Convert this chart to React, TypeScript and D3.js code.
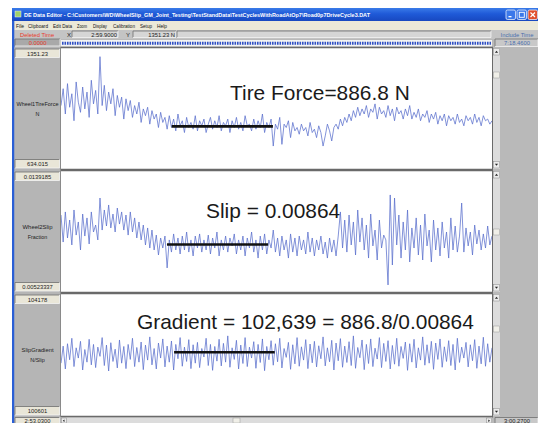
import * as d3 from "d3";
import { useEffect, useRef } from "react";

const W = 538;
const H = 423;

// time window shown (seconds): 2:53.0300 .. 3:00.2700
const TIME_START = 173.03;
const TIME_END = 180.27;

const titleText =
  "DE Data Editor - C:\\Customers\\WD\\WheelSlip_GM_Joint_Testing\\TestStandData\\TestCyclesWithRoadAtOp7\\Road0p7DriveCycle3.DAT";
const menuItems = ["File", "Clipboard", "Edit Data", "Zoom", "Display", "Calibration", "Setup", "Help"];
const menuX = [16, 28, 53, 77, 93, 113, 140, 157];
const menuW = [8, 20, 19, 10, 14, 22, 12, 10];

const channelNames = [["Wheel1TireForce", "N"], ["Wheel2Slip", "Fraction"], ["SlipGradient", "N/Slip"]];
const channelMax = ["1351.23", "0.0139185", "104178"];
const channelMin = ["634.015", "0.00523337", "100601"];
const annotations = ["Tire Force=886.8 N", "Slip = 0.00864", "Gradient = 102,639 = 886.8/0.00864"];

// averaging window marked with the black bars (seconds)
const barStart = [174.89, 174.81, 174.93];
const barEnd = [176.59, 176.51, 176.62];
const barLevel = [886.8, 0.00864, 102470];

const tireForce = [
  1010, 1110, 960, 1140, 1000, 1080, 920, 1150, 1030, 970,
  1120, 990, 1090, 940, 1160, 1020, 1100, 960, 1300, 1010,
  1130, 980, 1090, 1020, 1110, 950, 1070, 1000, 1060, 930,
  1050, 980, 1040, 940, 1010, 960, 1030, 910, 990, 950,
  1000, 900, 980, 930, 960, 880, 970, 910, 940, 870,
  950, 880, 930, 860, 960, 890, 920, 850, 940, 880,
  910, 870, 950, 860, 920, 890, 930, 850, 900, 940,
  870, 920, 880, 950, 860, 910, 890, 930, 850, 920,
  880, 940, 870, 910, 860, 950, 890, 900, 860, 930,
  870, 920, 880, 960, 850, 910, 880, 930, 770, 900,
  870, 940, 780, 900, 880, 920, 820, 910, 860, 880,
  840, 900, 860, 880, 830, 910, 850, 870, 820, 890,
  850, 770, 830, 900, 860, 800, 880, 900, 870, 930,
  890, 940, 910, 960, 920, 980, 940, 1000, 950, 990,
  960, 1010, 940, 990, 970, 1020, 930, 1000, 960, 980,
  940, 1010, 950, 990, 920, 1000, 960, 980, 930, 990,
  950, 1010, 930, 970, 940, 990, 920, 960, 940, 980,
  910, 960, 930, 970, 900, 950, 920, 960, 890, 950,
  920, 940, 900, 960, 910, 930, 890, 950, 920, 940,
  900, 960, 910, 940, 890, 950, 920, 930, 900, 920,
];

const wheelSlip = [
  0.01076, 0.00882, 0.01098, 0.00911, 0.0104, 0.00861, 0.01112, 0.00932, 0.01026, 0.00825,
  0.01083, 0.00925, 0.01055, 0.00868, 0.01098, 0.00954, 0.01004, 0.00897, 0.01198,
  0.00968, 0.01112, 0.00997, 0.01148, 0.00983, 0.01083, 0.00954, 0.01126, 0.01011, 0.01098,
  0.00968, 0.01076, 0.00932,
  0.01098, 0.00954, 0.01055, 0.00911, 0.01026, 0.00897, 0.01004, 0.00861, 0.00983, 0.00839,
  0.00968, 0.00825, 0.00932, 0.00789, 0.00911,
  0.00839, 0.00925, 0.00696, 0.00897, 0.0081, 0.0094, 0.00825, 0.00911, 0.00796, 0.00925,
  0.00825, 0.00954, 0.0081, 0.00897, 0.00782, 0.00925, 0.00839, 0.0094, 0.0081, 0.00897,
  0.00825, 0.00932, 0.00796, 0.00911, 0.00839, 0.00954, 0.00782, 0.00897, 0.00825, 0.00925,
  0.0081, 0.00911, 0.00854, 0.0094, 0.00796, 0.00897, 0.00825, 0.00925, 0.00782, 0.00911,
  0.00839, 0.00954, 0.0081, 0.00897, 0.00767, 0.00925, 0.00825, 0.0094, 0.00796, 0.00897,
  0.00839, 0.00968, 0.0081, 0.00911, 0.00782, 0.00925, 0.00825, 0.00897, 0.00767, 0.0094,
  0.0081, 0.00911, 0.00782, 0.00925, 0.00825, 0.00897, 0.00796, 0.00954, 0.0081, 0.00911,
  0.00782, 0.00897, 0.00825, 0.00925, 0.00796, 0.00882, 0.00767, 0.00911, 0.0081, 0.00897,
  0.00782, 0.00925,
  0.01098, 0.00839, 0.0104, 0.0081, 0.01076, 0.00861, 0.01026, 0.00789, 0.01112, 0.00882,
  0.01055, 0.00825, 0.01004, 0.00767, 0.01083, 0.00854, 0.00968, 0.00753, 0.0104, 0.00839,
  0.00932, 0.00897, 0.00574, 0.0122, 0.00717, 0.01198,
  0.00861, 0.01076, 0.00767, 0.01026, 0.00825, 0.01112, 0.00739, 0.00983, 0.00839, 0.01055,
  0.00789, 0.01004, 0.00753, 0.01083, 0.00854, 0.00968, 0.00739, 0.0104, 0.00825, 0.00983,
  0.00782, 0.01026, 0.00839, 0.00954, 0.00767, 0.01055, 0.00825, 0.00997, 0.0081, 0.00925,
  0.01162, 0.0081, 0.00983, 0.00854, 0.00954, 0.00789, 0.01004, 0.00868, 0.00968, 0.00825,
  0.0094, 0.00839, 0.00997, 0.00861, 0.00925,
];

const slipGradient = [
  102150, 102650, 101980, 102720, 102250, 102880, 102050, 102600, 102300, 102790,
  101950, 102550, 102180, 102850, 102100, 102700, 102020, 102620, 102350, 102900,
  102080, 102680, 101920, 102750, 102200, 102560, 102010, 102830, 102150, 102640,
  101990, 102700, 102260, 102880, 102050, 102610, 102180, 102770, 101960, 102680,
  102240, 102920, 102100, 102580, 101980, 102740, 102300, 102860, 102040, 102650,
  102180, 102800, 101950, 102700, 102280, 102900, 102060, 102620, 102200, 102840,
  101990, 102690, 102150, 102760, 102020, 102580, 102330, 102880, 102080, 102700,
  101940, 102640, 102210, 102850, 102070, 102730, 102180, 102950, 102030, 102600,
  102260, 102820, 101980, 102680, 102140, 102900, 102050, 102620, 102300, 102780,
  102000, 102700, 102170, 102860, 101930, 102640, 102250, 102810, 102090, 102720,
  102190, 102880, 102010, 102580, 102320, 102760, 101970, 102690, 102130, 102900,
  102060, 102630, 102240, 102840, 101990, 102710, 102160, 102790, 102040, 102660,
  102280, 102920, 102070, 102600, 102190, 102820, 101950, 102740, 102220, 102870,
  102030, 102650, 102170, 102780, 102080, 102950, 102000, 102610, 102310, 102830,
  101960, 102700, 102140, 102860, 102050, 102590, 102270, 102900, 102020, 102730,
  102200, 102810, 101980, 102670, 102120, 102880, 102060, 102640, 102290, 102770,
  101940, 102720, 102180, 102850, 102010, 102600, 102240, 102920, 102090, 102690,
  102150, 102790, 101970, 102740, 102260, 102860, 102030, 102630, 102200, 102810,
  102080, 102700, 101950, 102880, 102170, 102620, 102300, 102760, 102040, 102690,
  102220, 102840, 102000, 102650, 102130, 102910, 102060, 102720, 102180, 102600,
];

const series = [tireForce, wheelSlip, slipGradient];

export default function App() {
  const svgRef = useRef<SVGSVGElement>(null);

  useEffect(() => {
    if (!svgRef.current) return;
    const svg = d3.select(svgRef.current);
    svg.selectAll("*").remove();

    const UI = "'Liberation Sans', Arial, sans-serif";
    const plotX0 = 61;
    const plotX1 = 492;
    const panels = [
      { top: 48, bottom: 169, thumb: 72 },
      { top: 171, bottom: 292, thumb: 229 },
      { top: 294, bottom: 416, thumb: 326 },
    ];

    const defs = svg.append("defs");
    const tg = defs.append("linearGradient").attr("id", "title-grad").attr("x1", "0").attr("x2", "0").attr("y1", "0").attr("y2", "1");
    tg.append("stop").attr("offset", "0%").attr("stop-color", "#3a7be8");
    tg.append("stop").attr("offset", "45%").attr("stop-color", "#1f5ad8");
    tg.append("stop").attr("offset", "100%").attr("stop-color", "#1848c0");

    // window body
    svg.append("rect").attr("x", 12).attr("y", 8).attr("width", W - 12).attr("height", H - 8).attr("fill", "#b9b9b9");
    svg.append("rect").attr("x", 12).attr("y", 8).attr("width", 2.5).attr("height", H - 8).attr("fill", "#2a5fd6");

    // title bar
    svg.append("rect").attr("x", 12).attr("y", 8).attr("width", W - 12).attr("height", 13).attr("fill", "url(#title-grad)");
    svg.append("rect").attr("x", 15).attr("y", 11).attr("width", 6).attr("height", 6).attr("fill", "#9fd06a").attr("stroke", "#e8f0ff").attr("stroke-width", 0.5);
    svg.append("text").attr("x", 24).attr("y", 17.3).attr("fill", "#fff").attr("font-family", UI).attr("font-weight", "bold")
      .attr("font-size", 6).attr("textLength", 346).attr("lengthAdjust", "spacingAndGlyphs").text(titleText);
    const btns = [
      { x: 506, fill: "#3b78ea" },
      { x: 517, fill: "#3b78ea" },
      { x: 528, fill: "#e0502e" },
    ];
    btns.forEach((b, i) => {
      svg.append("rect").attr("x", b.x).attr("y", 10).attr("width", 9.5).attr("height", 9.5).attr("rx", 1.5)
        .attr("fill", b.fill).attr("stroke", "#fff").attr("stroke-width", 0.7);
      if (i === 0) svg.append("rect").attr("x", b.x + 2.5).attr("y", 16).attr("width", 3).attr("height", 1.3).attr("fill", "#fff");
      if (i === 1) svg.append("rect").attr("x", b.x + 2.3).attr("y", 12.3).attr("width", 5).attr("height", 5).attr("fill", "none").attr("stroke", "#fff").attr("stroke-width", 0.9);
      if (i === 2) {
        svg.append("path").attr("d", `M${b.x + 2.5},12.5 L${b.x + 7},17 M${b.x + 7},12.5 L${b.x + 2.5},17`).attr("stroke", "#fff").attr("stroke-width", 1.2);
      }
    });

    // menu bar
    svg.append("rect").attr("x", 14.5).attr("y", 21).attr("width", W - 14.5).attr("height", 9).attr("fill", "#ece9d8");
    menuItems.forEach((m, i) => {
      svg.append("text").attr("x", menuX[i]).attr("y", 28).attr("font-family", UI).attr("font-size", 5.4).attr("fill", "#111")
        .attr("textLength", menuW[i]).attr("lengthAdjust", "spacingAndGlyphs").text(m);
    });

    // toolbar row
    svg.append("rect").attr("x", 14.5).attr("y", 30).attr("width", W - 14.5).attr("height", 9).attr("fill", "#c4c4c4");
    svg.append("text").attr("x", 20).attr("y", 36.5).attr("font-family", UI).attr("font-size", 5.8).attr("fill", "#e83a2a").text("Deleted Time");

    const sunken = (x: number, y: number, w: number, h: number, fill: string) => {
      svg.append("rect").attr("x", x).attr("y", y).attr("width", w).attr("height", h).attr("fill", fill);
      svg.append("path").attr("d", `M${x},${y + h} L${x},${y} L${x + w},${y}`).attr("fill", "none").attr("stroke", "#6e6e6e").attr("stroke-width", 0.8);
      svg.append("path").attr("d", `M${x + w},${y} L${x + w},${y + h} L${x},${y + h}`).attr("fill", "none").attr("stroke", "#f4f4f4").attr("stroke-width", 0.8);
    };
    const label = (x: number, y: number, s: string, color = "#222", anchor = "middle", size = 5.8, len = 0) => {
      const t = svg.append("text").attr("x", x).attr("y", y).attr("font-family", UI).attr("font-size", size).attr("fill", color)
        .attr("text-anchor", anchor).text(s);
      if (len) t.attr("textLength", len).attr("lengthAdjust", "spacingAndGlyphs");
    };

    label(67, 36.5, "X", "#222", "start", 6);
    sunken(72, 31, 46, 6.5, "#d6d6d6");
    label(117, 36.5, "2:59.9000", "#222", "end");
    label(126, 36.5, "Y", "#222", "start", 6);
    sunken(133, 31, 43, 6.5, "#d6d6d6");
    label(175, 36.5, "1351.23 N", "#222", "end");
    sunken(177, 31, 314, 6.5, "#d6d6d6");
    label(517, 37, "Include Time", "#4a6fae");

    // time strip row
    sunken(15, 39, 45, 7, "#a9a9a9");
    label(37.5, 44.8, "0.0000", "#e83a2a");
    svg.append("rect").attr("x", plotX0).attr("y", 40).attr("width", plotX1 - plotX0).attr("height", 6.5).attr("fill", "#f4f4f4");
    svg.append("line").attr("x1", plotX0 + 1).attr("x2", plotX1 - 1).attr("y1", 43.3).attr("y2", 43.3)
      .attr("stroke", "#3050c4").attr("stroke-width", 3).attr("stroke-dasharray", "1.6,0.9");
    sunken(495, 39, 43, 7.5, "#c8c8c8");
    label(517, 44.8, "7:18.4600", "#4a6fae");

    // left gray column
    svg.append("rect").attr("x", 14.5).attr("y", 47).attr("width", 46).attr("height", 376).attr("fill", "#b5b5b5");
    svg.append("line").attr("x1", 60.5).attr("x2", 60.5).attr("y1", 47).attr("y2", 417).attr("stroke", "#8a8a8a").attr("stroke-width", 1);

    const timeScale = d3.scaleLinear().domain([TIME_START, TIME_END]).range([plotX0, plotX1]);
    const span = TIME_END - TIME_START;

    panels.forEach((p, k) => {
      const values = series[k];
      const lo = +channelMin[k];
      const hi = +channelMax[k];
      const y = d3.scaleLinear().domain([lo, hi]).range([p.bottom, p.top]);
      const n = values.length;
      const line = d3
        .line<number>()
        .x((_, i) => timeScale(TIME_START + (i / (n - 1)) * span))
        .y((d) => y(d));

      // plot background
      svg.append("rect").attr("x", plotX0).attr("y", p.top).attr("width", plotX1 - plotX0).attr("height", p.bottom - p.top).attr("fill", "#fff");
      svg.append("line").attr("x1", plotX0).attr("x2", plotX1 + 1).attr("y1", p.top - 0.5).attr("y2", p.top - 0.5).attr("stroke", "#6a6a6a").attr("stroke-width", 1.6);
      svg.append("line").attr("x1", plotX0).attr("x2", plotX1 + 1).attr("y1", p.bottom + 0.6).attr("y2", p.bottom + 0.6).attr("stroke", "#6a6a6a").attr("stroke-width", 1.6);
      svg.append("line").attr("x1", plotX1 + 0.5).attr("x2", plotX1 + 0.5).attr("y1", p.top).attr("y2", p.bottom).attr("stroke", "#6a6a6a").attr("stroke-width", 1);

      const clipId = `clip-${k}`;
      defs.append("clipPath").attr("id", clipId).append("rect").attr("x", plotX0).attr("y", p.top).attr("width", plotX1 - plotX0).attr("height", p.bottom - p.top);

      svg.append("path").datum(values).attr("clip-path", `url(#${clipId})`).attr("fill", "none")
        .attr("stroke", "#5a6fcc").attr("stroke-width", 0.75).attr("stroke-linejoin", "round").attr("d", line);

      // averaging bar
      svg.append("line").attr("x1", timeScale(barStart[k])).attr("x2", timeScale(barEnd[k]))
        .attr("y1", y(barLevel[k])).attr("y2", y(barLevel[k])).attr("stroke", "#111").attr("stroke-width", 2.6);

      // annotation
      const annX = [230, 206, 137][k];
      const annY = [99.5, 217.5, 328.5][k];
      svg.append("text").attr("x", annX).attr("y", annY).attr("font-family", UI).attr("font-size", 20.9).attr("fill", "#1a1a1a").text(annotations[k]);

      // left labels
      sunken(15, p.top + 1, 44.5, 8.5, "#e9e6d8");
      label(37.5, p.top + 7.6, channelMax[k]);
      sunken(15, p.bottom - 9.5, 44.5, 8.5, "#e9e6d8");
      label(37.5, p.bottom - 3, channelMin[k]);
      const mid = (p.top + p.bottom) / 2;
      const nameLen = [42, 30, 32][k];
      label(37.5, mid - 3, channelNames[k][0], "#222", "middle", 5.4, nameLen);
      label(37.5, mid + 7, channelNames[k][1], "#222", "middle", 5.4);

      // vertical scrollbar
      svg.append("rect").attr("x", 493).attr("y", p.top).attr("width", 7).attr("height", p.bottom - p.top).attr("fill", "#dcdcdc");
      [p.top + 0.5, p.bottom - 7.5].forEach((yy, j) => {
        svg.append("rect").attr("x", 493.5).attr("y", yy).attr("width", 6).attr("height", 6.5).attr("fill", "#ececec").attr("stroke", "#888").attr("stroke-width", 0.5);
        const cy = yy + 3.25;
        svg.append("path").attr("d", j === 0 ? `M494.9,${cy + 1} L498.1,${cy + 1} L496.5,${cy - 1}Z` : `M494.9,${cy - 1} L498.1,${cy - 1} L496.5,${cy + 1}Z`).attr("fill", "#222");
      });
      svg.append("rect").attr("x", 493.5).attr("y", p.thumb).attr("width", 6).attr("height", 6).attr("fill", "#f0efe8").attr("stroke", "#999").attr("stroke-width", 0.5);
    });

    // bottom row
    sunken(15, 417.5, 44.5, 6, "#e9e6d8");
    label(37.5, 423, "2:53.0300");
    svg.append("rect").attr("x", plotX0).attr("y", 417.5).attr("width", plotX1 - plotX0).attr("height", 6).attr("fill", "#dcdcdc");
    svg.append("rect").attr("x", plotX0 + 0.5).attr("y", 418).attr("width", 5).attr("height", 5).attr("fill", "#ececec").attr("stroke", "#888").attr("stroke-width", 0.5);
    svg.append("path").attr("d", "M64.5,419.5 L64.5,422 L62.8,420.7Z").attr("fill", "#222");
    svg.append("rect").attr("x", 233).attr("y", 418).attr("width", 7).attr("height", 5).attr("fill", "#f0efe8").attr("stroke", "#999").attr("stroke-width", 0.5);
    svg.append("rect").attr("x", 486.5).attr("y", 418).attr("width", 5).attr("height", 5).attr("fill", "#ececec").attr("stroke", "#888").attr("stroke-width", 0.5);
    svg.append("path").attr("d", "M488.3,419.5 L488.3,422 L490,420.7Z").attr("fill", "#222");
    sunken(495, 417.5, 43, 6, "#c8c8c8");
    label(517, 423, "3:00.2700");
  }, []);

  return (
    <div style={{ position: "absolute", left: 0, top: 0, width: W, height: H, background: "#fff" }}>
      <svg ref={svgRef} width={W} height={H} style={{ display: "block" }} />
    </div>
  );
}
